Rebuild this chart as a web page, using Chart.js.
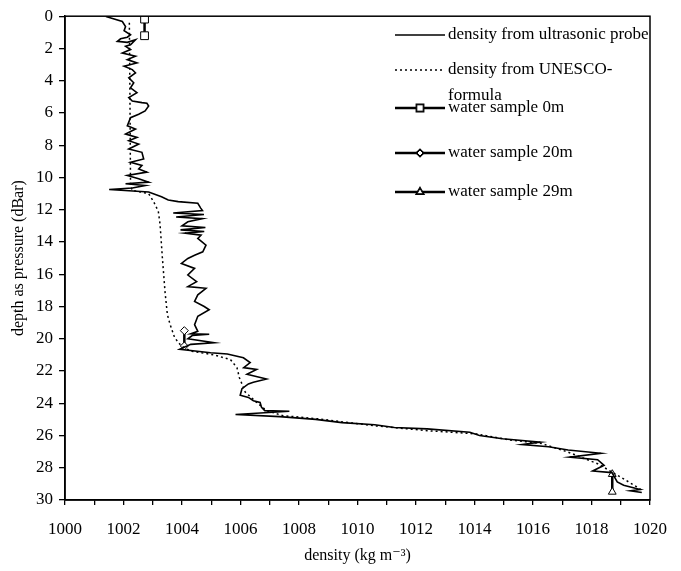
<!DOCTYPE html>
<html lang="en">
<head>
  <meta charset="UTF-8">
  <title>Density profile</title>
  <script src="https://cdn.jsdelivr.net/npm/chart.js"></script>
  <style>
    html, body { margin: 0; padding: 0; background: #fff; }
    #wrap { width: 681px; height: 571px; }
  </style>
</head>
<body>
  <div id="wrap"><canvas id="profile" width="681" height="571"></canvas></div>

  <script>
    // probe profile (density kg/m3, depth dBar)
    const probeDensity = [
      1001.40, 1001.96, 1002.07, 1002.02, 1002.24, 1002.13, 1001.90, 1001.79, 1002.13, 1002.41,
      1002.24, 1002.07, 1002.24, 1001.96, 1002.41, 1002.13, 1002.46, 1002.02, 1002.30, 1002.41,
      1002.18, 1002.35, 1002.24, 1002.46, 1002.18, 1002.30, 1002.63, 1002.80, 1002.86, 1002.74,
      1002.52, 1002.24, 1002.13, 1002.41, 1002.07, 1002.46, 1002.18, 1002.52, 1002.18, 1002.63,
      1002.69, 1002.24, 1002.63, 1002.52, 1002.80, 1002.13, 1002.52, 1002.86, 1002.07, 1002.74,
      1002.30, 1001.51, 1002.86, 1003.30, 1003.53, 1003.87, 1004.54, 1004.64,
      1004.70, 1003.70, 1004.75, 1003.80, 1004.70, 1004.20, 1004.00, 1004.80, 1003.95, 1004.76,
      1004.10, 1004.65, 1004.54, 1004.82, 1004.71, 1004.43, 1004.20, 1003.98, 1004.43, 1004.20,
      1004.50, 1004.20, 1004.82, 1004.54, 1004.43, 1004.76, 1004.93, 1004.54, 1004.43, 1004.54,
      1004.30, 1004.93, 1004.35, 1004.20, 1005.10, 1004.30, 1003.92, 1004.98, 1005.55, 1006.10,
      1006.33, 1006.11, 1006.55, 1006.22, 1006.89, 1006.44, 1006.27, 1006.05, 1005.99, 1006.27,
      1006.44, 1006.67, 1006.72, 1006.83, 1007.67, 1005.83, 1007.34, 1008.57, 1009.47, 1010.59,
      1011.26, 1012.38, 1013.84, 1014.17, 1014.96, 1016.25, 1015.63, 1016.53, 1017.20, 1018.32,
      1017.25, 1018.21, 1018.43, 1018.04, 1018.70, 1018.88, 1019.10, 1019.66, 1019.33, 1019.72
    ];
    const probeDepth = [
      0.02, 0.33, 0.64, 0.90, 1.15, 1.30, 1.40, 1.56, 1.62, 1.46,
      1.77, 1.87, 2.07, 2.28, 2.48, 2.69, 2.90, 3.10, 3.31, 3.51,
      3.82, 4.13, 4.44, 4.74, 5.05, 5.26, 5.36, 5.40, 5.57, 5.87,
      6.08, 6.29, 6.80, 7.00, 7.31, 7.52, 7.72, 7.93, 8.24, 8.44,
      8.85, 9.06, 9.26, 9.47, 9.67, 9.88, 10.08, 10.29, 10.39, 10.50,
      10.65, 10.75, 10.90, 11.20, 11.40, 11.50, 11.60, 11.90,
      12.05, 12.20, 12.30, 12.45, 12.55, 12.75, 13.00, 13.10, 13.25, 13.35,
      13.45, 13.58, 13.78, 14.20, 14.61, 14.82, 15.02, 15.33, 15.64, 16.05,
      16.46, 16.77, 16.87, 17.28, 17.69, 18.00, 18.20, 18.61, 19.13, 19.54,
      19.70, 19.72, 19.80, 20.00, 20.25, 20.35, 20.66, 20.87, 20.95, 21.18,
      21.48, 21.79, 21.90, 22.20, 22.50, 22.70, 22.80, 23.10, 23.50, 23.64,
      23.84, 23.95, 24.26, 24.46, 24.50, 24.70, 24.83, 25.00, 25.20, 25.33,
      25.50, 25.59, 25.80, 26.00, 26.20, 26.41, 26.56, 26.70, 26.90, 27.10,
      27.34, 27.50, 27.85, 28.20, 28.30, 28.88, 29.08, 29.35, 29.43, 29.53
    ];

    // UNESCO formula profile
    const unescoDensity = [
      1002.20, 1002.22, 1002.24, 1002.30, 1002.86, 1003.03, 1003.19, 1003.25, 1003.33, 1003.42,
      1003.50, 1003.59, 1003.75, 1003.98, 1004.31, 1005.10, 1005.66, 1005.88, 1005.96, 1006.16,
      1006.55, 1006.89, 1007.45, 1008.68, 1010.59, 1012.38, 1014.06, 1015.18, 1016.30, 1017.20,
      1018.21, 1018.99, 1019.55, 1019.72
    ];
    const unescoDepth = [
      0.40, 5.00, 10.50, 10.80, 11.00, 11.50, 12.10, 12.90, 15.00, 17.10,
      18.50, 19.10, 19.94, 20.46, 20.77, 21.00, 21.30, 21.80, 22.40, 23.30,
      23.95, 24.46, 24.77, 24.97, 25.40, 25.70, 25.90, 26.27, 26.50, 27.03,
      27.75, 28.57, 29.19, 29.39
    ];

    // water samples
    const sample0Density = [1002.72, 1002.72];
    const sample0Depth = [0.18, 1.21];
    const sample20Density = [1004.08, 1004.08];
    const sample20Depth = [19.50, 20.45];
    const sample29Density = [1018.71, 1018.71];
    const sample29Depth = [28.40, 29.50];

    const seriesNames = [
      'density from ultrasonic probe',
      'density from UNESCO-formula',
      'water sample 0m',
      'water sample 20m',
      'water sample 29m'
    ];

    function toPoints(xs, ys) {
      return xs.map((x, i) => ({ x: x, y: ys[i] }));
    }

    const serif = '"Liberation Serif", "DejaVu Serif", serif';

    // legend drawn inside the plot, upper right
    const legendInPlot = {
      id: 'legendInPlot',
      afterDraw(chart) {
        const ctx = chart.ctx;
        const rows = [
          { ds: 0, y: 35, lines: ['density from ultrasonic probe'] },
          { ds: 1, y: 70, lines: ['density from UNESCO-', 'formula'] },
          { ds: 2, y: 108, lines: ['water sample 0m'] },
          { ds: 3, y: 153, lines: ['water sample 20m'] },
          { ds: 4, y: 192, lines: ['water sample 29m'] }
        ];
        ctx.save();
        rows.forEach(r => {
          const ds = chart.data.datasets[r.ds];
          ctx.strokeStyle = '#000';
          ctx.lineWidth = ds.borderWidth;
          ctx.setLineDash(ds.borderDash || []);
          ctx.beginPath();
          ctx.moveTo(395, r.y);
          ctx.lineTo(445, r.y);
          ctx.stroke();
          ctx.setLineDash([]);
          if (ds.pointStyle) {
            Chart.helpers.drawPoint(ctx, {
              pointStyle: ds.pointStyle,
              radius: ds.pointRadius - 1,
              borderWidth: 1
            }, 420, r.y);
            ctx.fillStyle = '#fff';
            ctx.strokeStyle = '#000';
            ctx.lineWidth = 1;
            ctx.fill();
            ctx.stroke();
          }
          ctx.fillStyle = '#000';
          ctx.font = '17px ' + serif;
          ctx.textBaseline = 'middle';
          ctx.textAlign = 'left';
          r.lines.forEach((t, i) => ctx.fillText(t, 448, r.y + i * 26));
        });
        ctx.restore();
      }
    };

    const frame = {
      id: 'frame',
      afterDatasetsDraw(chart) {
        const a = chart.chartArea;
        const ctx = chart.ctx;
        ctx.save();
        ctx.strokeStyle = '#000';
        ctx.lineWidth = 1.5;
        ctx.strokeRect(a.left, a.top, a.right - a.left, a.bottom - a.top);
        ctx.restore();
      }
    };

    new Chart(document.getElementById('profile'), {
      type: 'scatter',
      data: {
        datasets: [
          {
            label: seriesNames[0],
            data: toPoints(probeDensity, probeDepth),
            showLine: true, borderColor: '#000', borderWidth: 1.6,
            pointRadius: 0, tension: 0
          },
          {
            label: seriesNames[1],
            data: toPoints(unescoDensity, unescoDepth),
            showLine: true, borderColor: '#000', borderWidth: 1.5, borderDash: [2, 3],
            pointRadius: 0, tension: 0
          },
          {
            label: seriesNames[2],
            data: toPoints(sample0Density, sample0Depth),
            showLine: true, borderColor: '#000', borderWidth: 2.5,
            pointStyle: 'rect', pointRadius: 5.5, pointBackgroundColor: '#fff',
            pointBorderColor: '#000', pointBorderWidth: 1
          },
          {
            label: seriesNames[3],
            data: toPoints(sample20Density, sample20Depth),
            showLine: true, borderColor: '#000', borderWidth: 2.5,
            pointStyle: 'rectRot', pointRadius: 4, pointBackgroundColor: '#fff',
            pointBorderColor: '#000', pointBorderWidth: 1
          },
          {
            label: seriesNames[4],
            data: toPoints(sample29Density, sample29Depth),
            showLine: true, borderColor: '#000', borderWidth: 2.5,
            pointStyle: 'triangle', pointRadius: 4.5, pointBackgroundColor: '#fff',
            pointBorderColor: '#000', pointBorderWidth: 1
          }
        ]
      },
      options: {
        responsive: false,
        animation: false,
        layout: { padding: { top: 13, right: 21, left: 0, bottom: 0 } },
        plugins: { legend: { display: false }, tooltip: { enabled: false } },
        scales: {
          x: {
            type: 'linear', min: 1000, max: 1020,
            border: { color: '#000', width: 1.5 },
            grid: { drawOnChartArea: false, color: '#000', tickLength: 5, lineWidth: 1.3 },
            ticks: {
              stepSize: 1, autoSkip: false, maxRotation: 0, color: '#000', padding: 14,
              font: { family: serif, size: 17 },
              callback: v => (v % 2 === 0 ? String(v) : '')
            },
            title: {
              display: true, text: 'density (kg m\u207B\u00B3)', color: '#000',
              font: { family: serif, size: 16 }, padding: { top: 2, bottom: 6 }
            },
            afterFit: s => { s.height = 71; }
          },
          y: {
            type: 'linear', min: 0, max: 30, reverse: true,
            border: { color: '#000', width: 1.5 },
            grid: { drawOnChartArea: false, color: '#000', tickLength: 6, lineWidth: 1.3 },
            ticks: {
              stepSize: 2, color: '#000', padding: 6,
              font: { family: serif, size: 17 }
            },
            title: {
              display: true, text: 'depth as pressure (dBar)', color: '#000',
              font: { family: serif, size: 16 }, padding: { top: 9, bottom: 0 }
            },
            afterFit: s => { s.width = 65; }
          }
        }
      },
      plugins: [frame, legendInPlot]
    });
  </script>
</body>
</html>
